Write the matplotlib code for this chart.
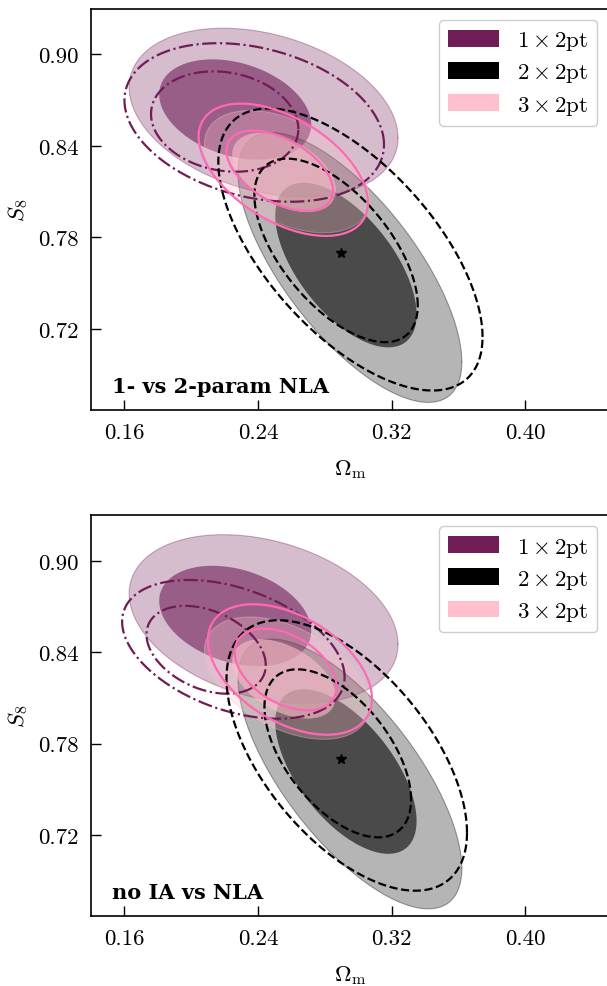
import matplotlib

matplotlib.use("Agg")
import matplotlib.pyplot as plt
import numpy as np
from matplotlib.patches import Patch

plt.rcParams["font.family"] = ["cmr10", "DejaVu Serif"]
plt.rcParams["mathtext.fontset"] = "cm"
plt.rcParams["axes.unicode_minus"] = False
plt.rcParams["axes.formatter.use_mathtext"] = True

PROBES = ["1x2pt", "2x2pt", "3x2pt"]
LABELS = [r"$1\times 2$pt", r"$2\times 2$pt", r"$3\times 2$pt"]
PANEL_TEXT = ["1- vs 2-param NLA", "no IA vs NLA"]

# contour summaries, per probe: [68%, 95%]
# filled contours (same in both panels)
fill_om = [[0.2263, 0.2433], [0.2926, 0.2950], [0.2555, 0.2572]]
fill_s8 = [[0.8638, 0.8618], [0.7618, 0.7602], [0.8225, 0.8230]]
fill_dom = [[0.0455, 0.0805], [0.0423, 0.0670], [0.0310, 0.0493]]
fill_ds8 = [[0.0329, 0.0553], [0.0540, 0.0885], [0.0260, 0.0401]]
fill_rho = [[-0.30, -0.30], [-0.60, -0.70], [-0.45, -0.45]]

# line contours, top panel (2-param NLA)
top_om = [[0.2200, 0.2377], [0.2867, 0.2953], [0.2530, 0.2551]]
top_s8 = [[0.8559, 0.8553], [0.7714, 0.7720], [0.8237, 0.8243]]
top_dom = [[0.0441, 0.0777], [0.0489, 0.0791], [0.0319, 0.0507]]
top_ds8 = [[0.0329, 0.0520], [0.0602, 0.0925], [0.0263, 0.0434]]
top_rho = [[-0.15, -0.28], [-0.60, -0.62], [-0.50, -0.50]]

# line contours, bottom panel (no IA)
bot_om = [[0.2089, 0.2252], [0.2877, 0.2931], [0.2565, 0.2591]]
bot_s8 = [[0.8416, 0.8419], [0.7737, 0.7723], [0.8287, 0.8287]]
bot_dom = [[0.0357, 0.0666], [0.0439, 0.0720], [0.0305, 0.0491]]
bot_ds8 = [[0.0288, 0.0455], [0.0551, 0.0887], [0.0268, 0.0428]]
bot_rho = [[-0.35, -0.40], [-0.55, -0.57], [-0.42, -0.45]]

fiducial_om = 0.2894
fiducial_s8 = 0.770

FILL_COLORS = ["#701c57", "#000000", "#ffc0cb"]
LINE_COLORS = ["#701c57", "#000000", "#ff69b4"]
LINE_STYLES = ["-.", "--", "-"]


def ellipse(x0, y0, hx, hy, rho, n=300):
    t = np.linspace(0, 2 * np.pi, n)
    x = x0 + hx * np.cos(t)
    y = y0 + hy * (rho * np.cos(t) + np.sqrt(1 - rho ** 2) * np.sin(t))
    return x, y


def draw_panel(ax, line_om, line_s8, line_dom, line_ds8, line_rho, text):
    for i in range(len(PROBES)):
        c = FILL_COLORS[i]
        # outer (95%) then inner (68%)
        x, y = ellipse(fill_om[i][1], fill_s8[i][1], fill_dom[i][1], fill_ds8[i][1], fill_rho[i][1])
        ax.fill(x, y, color=c, alpha=0.29, lw=0, zorder=2 + i)
        ax.plot(x, y, color=c, alpha=0.35, lw=0.8, zorder=2 + i)
        x, y = ellipse(fill_om[i][0], fill_s8[i][0], fill_dom[i][0], fill_ds8[i][0], fill_rho[i][0])
        ax.fill(x, y, color=c, alpha=0.59, lw=0, zorder=2 + i)

    for i in range(len(PROBES)):
        for k in range(2):
            x, y = ellipse(line_om[i][k], line_s8[i][k], line_dom[i][k], line_ds8[i][k], line_rho[i][k])
            ax.plot(x, y, color=LINE_COLORS[i], ls=LINE_STYLES[i], lw=1.6, zorder=6 + i)

    ax.plot(fiducial_om, fiducial_s8, marker="*", color="black", ms=7.5, ls="none", zorder=10)

    ax.set_xlim(0.14, 0.45)
    ax.set_ylim(0.667, 0.93)
    ax.set_xticks([0.16, 0.24, 0.32, 0.40])
    ax.set_yticks([0.72, 0.78, 0.84, 0.90])
    ax.set_xticklabels(["0.16", "0.24", "0.32", "0.40"])
    ax.set_yticklabels(["0.72", "0.78", "0.84", "0.90"])
    ax.tick_params(direction="in", length=7, width=1.0, labelsize=16.5, pad=9)
    for s in ax.spines.values():
        s.set_linewidth(1.2)
    ax.set_xlabel(r"$\Omega_{\rm m}$", fontsize=16.5, labelpad=11)
    ax.set_ylabel(r"$S_8$", fontsize=16.5, labelpad=6)

    ax.text(0.04, 0.035, text, transform=ax.transAxes, fontsize=15,
            family=["DejaVu Serif"], fontweight="bold", va="bottom", ha="left", zorder=12)

    handles = [Patch(facecolor=c, edgecolor="none") for c in FILL_COLORS]
    ax.legend(handles, LABELS, loc="upper right", fontsize=16.5, handlelength=2.2,
              handleheight=0.75, borderpad=0.4, labelspacing=0.4, handletextpad=0.8,
              framealpha=1.0, edgecolor="#cccccc")


fig = plt.figure(figsize=(6.07, 9.87), dpi=100)
ax1 = fig.add_axes([0.150, 0.584, 0.853, 0.4063])
ax2 = fig.add_axes([0.150, 0.0709, 0.853, 0.4063])

draw_panel(ax1, top_om, top_s8, top_dom, top_ds8, top_rho, PANEL_TEXT[0])
draw_panel(ax2, bot_om, bot_s8, bot_dom, bot_ds8, bot_rho, PANEL_TEXT[1])

fig.savefig("out.png", dpi=100)
